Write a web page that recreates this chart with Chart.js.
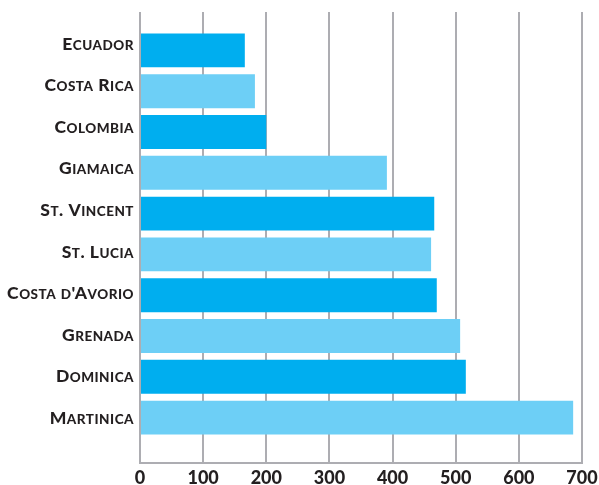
<!DOCTYPE html>
<html>
<head>
<meta charset="utf-8">
<script src="https://cdn.jsdelivr.net/npm/chart.js@4"></script>
<style>
  html, body { margin: 0; padding: 0; background: #fff; }
  #wrap { width: 599px; height: 485px; }
</style>
</head>
<body>
<div id="wrap"><canvas id="grafico"></canvas></div>
<script>
// Paesi (dall'alto in basso)
const paesi = ['Ecuador', 'Costa Rica', 'Colombia', 'Giamaica', 'St. Vincent', 'St. Lucia', "Costa d'Avorio", 'Grenada', 'Dominica', 'Martinica'];
// Valori
const valori = [166, 182, 200, 391, 466, 461, 470, 507, 516, 686];
// Colori alternati
const coloreScuro = '#00AEEF';
const coloreChiaro = '#6DCFF6';
const colori = paesi.map((p, i) => i % 2 === 0 ? coloreScuro : coloreChiaro);
const grigio = '#ADADB2';
const testo = '#231F20';

// linea orizzontale in fondo, sotto il prolungamento della griglia
const lineaFondo = {
    id: 'lineaFondo',
    afterDraw(chart) {
        const x = chart.scales.x;
        const c = chart.ctx;
        const y = x.top + x.options.grid.tickLength;
        c.save();
        c.strokeStyle = grigio;
        c.lineWidth = 2;
        c.beginPath();
        c.moveTo(chart.chartArea.left - 1, y);
        c.lineTo(chart.chartArea.right + 1, y);
        c.stroke();
        c.restore();
    }
};

// etichette dell'asse y in maiuscoletto (il canvas non lo sintetizza da solo)
const fontGrande = '900 17.5px Lato';
const fontPiccolo = '900 13.5px Lato';
const maiuscoletto = {
    id: 'maiuscoletto',
    afterDraw(chart) {
        const s = chart.scales.y;
        const c = chart.ctx;
        const n = s.getLabels().length;
        c.save();
        c.fillStyle = testo;
        c.textBaseline = 'alphabetic';
        c.textAlign = 'left';
        c.letterSpacing = '0.5px';
        s.getLabels().forEach((lab, i) => {
            // spezza in pezzi: maiuscole originali grandi, minuscole piccole
            const pezzi = [];
            for (const ch of lab) {
                const grande = ch !== ch.toLowerCase() || ch === ' ' || ch === '.' || ch === "'";
                const f = grande ? fontGrande : fontPiccolo;
                if (pezzi.length && pezzi[pezzi.length - 1].f === f) pezzi[pezzi.length - 1].t += ch.toUpperCase();
                else pezzi.push({ f, t: ch.toUpperCase() });
            }
            let w = 0;
            pezzi.forEach(p => { c.font = p.f; p.w = c.measureText(p.t).width; w += p.w; });
            let x = s.right - 6 - w;
            // nel riferimento le etichette salgono un poco verso l'alto
            const y = s.getPixelForTick(i) + 6.3 - (n - 1 - i) * 0.8;
            pezzi.forEach(p => { c.font = p.f; c.fillText(p.t, x, y); x += p.w; });
        });
        c.restore();
    }
};

const ctx = document.getElementById('grafico').getContext('2d');
new Chart(ctx, {
    type: 'bar',
    data: {
        labels: paesi,
        datasets: [{
            data: valori,
            backgroundColor: colori,
            borderWidth: 0,
            barPercentage: 0.83,
            categoryPercentage: 1
        }]
    },
    options: {
        indexAxis: 'y',
        responsive: true,
        maintainAspectRatio: false,
        animation: false,
        layout: { padding: { top: 12, right: 17, bottom: 0, left: 0 } },
        plugins: {
            legend: { display: false },
            tooltip: { enabled: false }
        },
        scales: {
            x: {
                min: 0,
                max: 700,
                ticks: {
                    stepSize: 100,
                    padding: 4,
                    color: testo,
                    font: { family: 'Lato', weight: '900', size: 18 }
                },
                grid: { color: grigio, lineWidth: 2, tickLength: 25, tickColor: grigio },
                border: { display: false },
                afterFit(s) { s.height = 47; s.paddingRight = 0; }
            },
            x2: {
                position: 'top',
                min: 0,
                max: 700,
                ticks: { stepSize: 100, display: false },
                grid: { color: grigio, lineWidth: 2, tickLength: 18, drawOnChartArea: false },
                border: { display: false },
                afterFit(s) { s.height = 18; }
            },
            y: {
                grid: { display: false, drawTicks: false },
                border: { display: false },
                ticks: { display: false },
                afterFit(s) { s.width = 140; }
            }
        }
    },
    plugins: [lineaFondo, maiuscoletto]
});
</script>
</body>
</html>
